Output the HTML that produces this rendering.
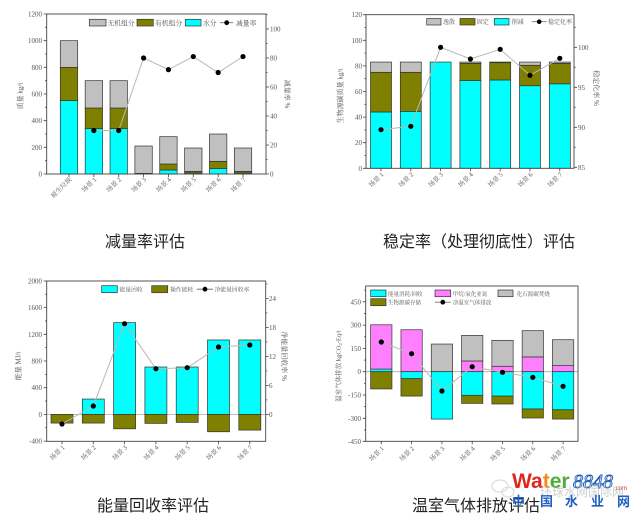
<!DOCTYPE html>
<html><head><meta charset="utf-8"><style>
html,body{margin:0;padding:0;background:#fff;width:640px;height:518px;overflow:hidden}
svg{display:block}
.t{font-family:"Liberation Serif","Noto Serif CJK SC",serif;font-size:7px;fill:#555}
.c{font-family:"Liberation Serif","Noto Serif CJK SC",serif;fill:#555}
.ttl{font-family:"Liberation Sans","Noto Sans CJK SC",sans-serif;font-size:16px;fill:#222}
.fr{fill:none;stroke:#444;stroke-width:0.9}
.tk{stroke:#444;stroke-width:0.8}
.cy{fill:#00ffff;stroke:#333;stroke-width:0.7}
.ol{fill:#808000;stroke:#333;stroke-width:0.7}
.gr{fill:#c0c0c0;stroke:#333;stroke-width:0.7}
.mg{fill:#ff80ff;stroke:#333;stroke-width:0.7}
.ln{fill:none;stroke:#b8b8b8;stroke-width:1}
</style></head><body>
<svg width="640" height="518" viewBox="0 0 640 518" xmlns="http://www.w3.org/2000/svg">
<rect width="640" height="518" fill="#fff"/>

<!-- ============ CHART 1 ============ -->
<g>
<!-- bars -->
<rect class="cy" x="60.3" y="100.67" width="17.4" height="73.33"/>
<rect class="ol" x="60.3" y="67.33" width="17.4" height="33.33"/>
<rect class="gr" x="60.3" y="40.67" width="17.4" height="26.67"/>

<rect class="cy" x="85.16" y="128.67" width="17.4" height="45.33"/>
<rect class="ol" x="85.16" y="108" width="17.4" height="20.67"/>
<rect class="gr" x="85.16" y="80.67" width="17.4" height="27.33"/>

<rect class="cy" x="110.02" y="128.67" width="17.4" height="45.33"/>
<rect class="ol" x="110.02" y="108" width="17.4" height="20.67"/>
<rect class="gr" x="110.02" y="80.67" width="17.4" height="27.33"/>

<rect class="ol" x="134.88" y="173.33" width="17.4" height="0.67"/>
<rect class="gr" x="134.88" y="146" width="17.4" height="27.33"/>

<rect class="cy" x="159.74" y="170" width="17.4" height="4"/>
<rect class="ol" x="159.74" y="164" width="17.4" height="6"/>
<rect class="gr" x="159.74" y="136.67" width="17.4" height="27.33"/>

<rect class="cy" x="184.6" y="172.93" width="17.4" height="1.07"/>
<rect class="ol" x="184.6" y="171.33" width="17.4" height="1.6"/>
<rect class="gr" x="184.6" y="148" width="17.4" height="23.33"/>

<rect class="cy" x="209.46" y="168.67" width="17.4" height="5.33"/>
<rect class="ol" x="209.46" y="161.33" width="17.4" height="7.33"/>
<rect class="gr" x="209.46" y="134" width="17.4" height="27.33"/>

<rect class="cy" x="234.32" y="172.93" width="17.4" height="1.07"/>
<rect class="ol" x="234.32" y="171.33" width="17.4" height="1.6"/>
<rect class="gr" x="234.32" y="148" width="17.4" height="23.33"/>

<!-- line -->
<polyline class="ln" points="93.86,130.5 118.72,130.5 143.58,58 168.44,69.6 193.3,56.55 218.16,72.5 243.02,56.55"/>
<g fill="#000">
<circle cx="93.86" cy="130.5" r="2.6"/><circle cx="118.72" cy="130.5" r="2.6"/><circle cx="143.58" cy="58" r="2.6"/>
<circle cx="168.44" cy="69.6" r="2.6"/><circle cx="193.3" cy="56.55" r="2.6"/><circle cx="218.16" cy="72.5" r="2.6"/><circle cx="243.02" cy="56.55" r="2.6"/>
</g>
<!-- frame -->
<rect class="fr" x="46.7" y="14" width="219.3" height="160"/>
<!-- left ticks -->
<path class="tk" d="M46.7 174h-3M46.7 147.33h-3M46.7 120.67h-3M46.7 94h-3M46.7 67.33h-3M46.7 40.67h-3M46.7 14h-3
M46.7 160.67h-1.6M46.7 134h-1.6M46.7 107.33h-1.6M46.7 80.67h-1.6M46.7 54h-1.6M46.7 27.33h-1.6"/>
<path class="tk" d="M266 174h3M266 145h3M266 116h3M266 87h3M266 58h3M266 29h3
M266 159.5h1.6M266 130.5h1.6M266 101.5h1.6M266 72.5h1.6M266 43.5h1.6M266 14.5h1.6"/>
<path class="tk" d="M69 174v3M93.86 174v3M118.72 174v3M143.58 174v3M168.44 174v3M193.3 174v3M218.16 174v3M243.02 174v3"/>
<g class="t" text-anchor="end">
<text x="42" y="176.5">0</text><text x="42" y="149.8">200</text><text x="42" y="123.2">400</text><text x="42" y="96.5">600</text>
<text x="42" y="69.8">800</text><text x="42" y="43.2">1000</text><text x="42" y="16.5">1200</text>
</g>
<g class="t">
<text x="270" y="176.5">0</text><text x="270" y="147.5">20</text><text x="270" y="118.5">40</text><text x="270" y="89.5">60</text>
<text x="270" y="60.5">80</text><text x="270" y="31.5">100</text>
</g>
<g class="c" font-size="6.5" text-anchor="end">
<text transform="translate(72,180) rotate(-45)">原生垃圾</text>
<text transform="translate(96.9,180) rotate(-45)">场景 1</text>
<text transform="translate(121.7,180) rotate(-45)">场景 2</text>
<text transform="translate(146.6,180) rotate(-45)">场景 3</text>
<text transform="translate(171.4,180) rotate(-45)">场景 4</text>
<text transform="translate(196.3,180) rotate(-45)">场景 5</text>
<text transform="translate(221.2,180) rotate(-45)">场景 6</text>
<text transform="translate(246,180) rotate(-45)">场景 7</text>
</g>
<text class="c" font-size="7" text-anchor="middle" transform="translate(22.5,96) rotate(-90)">质量 kg/t</text>
<text class="c" font-size="7" text-anchor="middle" transform="translate(285,94) rotate(90)">减量率 %</text>
<!-- legend -->
<rect class="gr" x="89.3" y="19.3" width="16.7" height="6.7"/>
<text class="c" font-size="6.8" x="107.5" y="25.3">无机组分</text>
<rect class="ol" x="137" y="19.3" width="16.3" height="6.7"/>
<text class="c" font-size="6.8" x="155" y="25.3">有机组分</text>
<rect class="cy" x="185.3" y="19.3" width="15.7" height="6.7"/>
<text class="c" font-size="6.8" x="203" y="25.3">水分</text>
<path d="M220 22.7h13.3" stroke="#666" stroke-width="0.8"/><circle cx="226.7" cy="22.7" r="2.4" fill="#000"/>
<text class="c" font-size="6.8" x="236" y="25.3">减量率</text>
</g>
<text class="ttl" x="145" y="247" text-anchor="middle">减量率评估</text>

<!-- ============ CHART 2 ============ -->
<g>
<rect class="cy" x="370.5" y="111.98" width="21" height="56.32"/>
<rect class="ol" x="370.5" y="72.3" width="21" height="39.68"/>
<rect class="gr" x="370.5" y="62.06" width="21" height="10.24"/>

<rect class="cy" x="400.3" y="111.34" width="21" height="56.96"/>
<rect class="ol" x="400.3" y="72.3" width="21" height="39.04"/>
<rect class="gr" x="400.3" y="62.06" width="21" height="10.24"/>

<rect class="cy" x="430.1" y="62.06" width="21" height="106.24"/>

<rect class="cy" x="459.9" y="80.62" width="21" height="87.68"/>
<rect class="ol" x="459.9" y="63.34" width="21" height="17.28"/>
<rect class="gr" x="459.9" y="62.06" width="21" height="1.28"/>

<rect class="cy" x="489.7" y="79.98" width="21" height="88.32"/>
<rect class="ol" x="489.7" y="62.7" width="21" height="17.28"/>
<rect class="gr" x="489.7" y="62.06" width="21" height="0.64"/>

<rect class="cy" x="519.5" y="85.74" width="21" height="82.56"/>
<rect class="ol" x="519.5" y="65.26" width="21" height="20.48"/>
<rect class="gr" x="519.5" y="62.06" width="21" height="3.2"/>

<rect class="cy" x="549.3" y="83.82" width="21" height="84.48"/>
<rect class="ol" x="549.3" y="63.34" width="21" height="20.48"/>
<rect class="gr" x="549.3" y="62.06" width="21" height="1.28"/>

<polyline class="ln" points="381,129.7 410.8,126.3 440.6,47.3 470.4,59 500.2,49.3 530,75.3 559.8,58.3"/>
<g fill="#000">
<circle cx="381" cy="129.7" r="2.6"/><circle cx="410.8" cy="126.3" r="2.6"/><circle cx="440.6" cy="47.3" r="2.6"/>
<circle cx="470.4" cy="59" r="2.6"/><circle cx="500.2" cy="49.3" r="2.6"/><circle cx="530" cy="75.3" r="2.6"/><circle cx="559.8" cy="58.3" r="2.6"/>
</g>
<rect class="fr" x="366" y="14.7" width="208" height="153.6"/>
<path class="tk" d="M366 168.3h-3M366 142.7h-3M366 117.1h-3M366 91.5h-3M366 65.9h-3M366 40.3h-3M366 14.7h-3
M366 155.5h-1.6M366 129.9h-1.6M366 104.3h-1.6M366 78.7h-1.6M366 53.1h-1.6M366 27.5h-1.6"/>
<path class="tk" d="M574 167.3h3M574 127.3h3M574 87.3h3M574 47.3h3M574 147.3h1.6M574 107.3h1.6M574 67.3h1.6M574 27.3h1.6"/>
<path class="tk" d="M381 168.3v3M410.8 168.3v3M440.6 168.3v3M470.4 168.3v3M500.2 168.3v3M530 168.3v3M559.8 168.3v3"/>
<g class="t" text-anchor="end">
<text x="362" y="170.8">0</text><text x="362" y="145.2">20</text><text x="362" y="119.6">40</text><text x="362" y="94">60</text>
<text x="362" y="68.4">80</text><text x="362" y="42.8">100</text><text x="362" y="17.2">120</text>
</g>
<g class="t">
<text x="578" y="169.8">85</text><text x="578" y="129.8">90</text><text x="578" y="89.8">95</text><text x="578" y="49.8">100</text>
</g>
<g class="c" font-size="6.5" text-anchor="end">
<text transform="translate(384,175) rotate(-45)">场景 1</text>
<text transform="translate(413.8,175) rotate(-45)">场景 2</text>
<text transform="translate(443.6,175) rotate(-45)">场景 3</text>
<text transform="translate(473.4,175) rotate(-45)">场景 4</text>
<text transform="translate(503.2,175) rotate(-45)">场景 5</text>
<text transform="translate(533,175) rotate(-45)">场景 6</text>
<text transform="translate(562.8,175) rotate(-45)">场景 7</text>
</g>
<text class="c" font-size="7" text-anchor="middle" transform="translate(342.5,96) rotate(-90)">生物源碳质量 kg/t</text>
<text class="c" font-size="7" text-anchor="middle" transform="translate(594,88) rotate(90)">稳定化率 %</text>
<rect class="gr" x="426.7" y="18.5" width="14.3" height="6.5"/>
<text class="c" font-size="6" x="443" y="24">逸散</text>
<rect class="ol" x="460" y="18.5" width="15" height="6.5"/>
<text class="c" font-size="6" x="476.7" y="24">固定</text>
<rect class="cy" x="494.3" y="18.5" width="14.7" height="6.5"/>
<text class="c" font-size="6" x="511.7" y="24">削减</text>
<path d="M531.7 21.7h15" stroke="#666" stroke-width="0.8"/><circle cx="539.2" cy="21.7" r="2.3" fill="#000"/>
<text class="c" font-size="6" x="548" y="24">稳定化率</text>
</g>
<text class="ttl" x="479" y="247" text-anchor="middle">稳定率（处理彻底性）评估</text>

<!-- ============ CHART 3 ============ -->
<g>
<line x1="46.7" y1="414.4" x2="265.7" y2="414.4" stroke="#aaa" stroke-width="0.8"/>
<rect class="ol" x="51" y="414.4" width="22" height="8.68"/>
<rect class="cy" x="82.3" y="399.05" width="22" height="15.35"/>
<rect class="ol" x="82.3" y="414.4" width="22" height="8.68"/>
<rect class="cy" x="113.6" y="322.62" width="22" height="91.78"/>
<rect class="ol" x="113.6" y="414.4" width="22" height="14.42"/>
<rect class="cy" x="144.9" y="367.01" width="22" height="47.39"/>
<rect class="ol" x="144.9" y="414.4" width="22" height="9.01"/>
<rect class="cy" x="176.2" y="367.01" width="22" height="47.39"/>
<rect class="ol" x="176.2" y="414.4" width="22" height="8.01"/>
<rect class="cy" x="207.5" y="339.97" width="22" height="74.43"/>
<rect class="ol" x="207.5" y="414.4" width="22" height="17.36"/>
<rect class="cy" x="238.8" y="339.97" width="22" height="74.43"/>
<rect class="ol" x="238.8" y="414.4" width="22" height="15.69"/>

<polyline class="ln" points="62,424 93.3,406 124.6,323.7 155.9,368.7 187.2,367.7 218.5,347 249.8,345"/>
<g fill="#000">
<circle cx="62" cy="424" r="2.6"/><circle cx="93.3" cy="406" r="2.6"/><circle cx="124.6" cy="323.7" r="2.6"/>
<circle cx="155.9" cy="368.7" r="2.6"/><circle cx="187.2" cy="367.7" r="2.6"/><circle cx="218.5" cy="347" r="2.6"/><circle cx="249.8" cy="345" r="2.6"/>
</g>
<rect class="fr" x="46.7" y="281" width="219" height="160.3"/>
<path class="tk" d="M46.7 441.1h-3M46.7 414.4h-3M46.7 387.7h-3M46.7 361h-3M46.7 334.3h-3M46.7 307.6h-3M46.7 281h-3
M46.7 427.75h-1.6M46.7 401.05h-1.6M46.7 374.35h-1.6M46.7 347.65h-1.6M46.7 320.95h-1.6M46.7 294.25h-1.6"/>
<path class="tk" d="M265.7 414.4h3M265.7 385.4h3M265.7 356.4h3M265.7 327.4h3M265.7 298.4h3
M265.7 399.9h1.6M265.7 370.9h1.6M265.7 341.9h1.6M265.7 312.9h1.6M265.7 283.9h1.6"/>
<path class="tk" d="M62 441.3v3M93.3 441.3v3M124.6 441.3v3M155.9 441.3v3M187.2 441.3v3M218.5 441.3v3M249.8 441.3v3"/>
<g class="t" text-anchor="end">
<text x="42" y="443.6">-400</text><text x="42" y="416.9">0</text><text x="42" y="390.2">400</text><text x="42" y="363.5">800</text>
<text x="42" y="336.8">1200</text><text x="42" y="310.1">1600</text><text x="42" y="283.5">2000</text>
</g>
<g class="t">
<text x="269" y="416.9">0</text><text x="269" y="387.9">6</text><text x="269" y="358.9">12</text><text x="269" y="329.9">18</text><text x="269" y="300.9">24</text>
</g>
<g class="c" font-size="6.5" text-anchor="end">
<text transform="translate(65,448) rotate(-45)">场景 1</text>
<text transform="translate(96.3,448) rotate(-45)">场景 2</text>
<text transform="translate(127.6,448) rotate(-45)">场景 3</text>
<text transform="translate(158.9,448) rotate(-45)">场景 4</text>
<text transform="translate(190.2,448) rotate(-45)">场景 5</text>
<text transform="translate(221.5,448) rotate(-45)">场景 6</text>
<text transform="translate(252.8,448) rotate(-45)">场景 7</text>
</g>
<text class="c" font-size="7" text-anchor="middle" transform="translate(20.5,366) rotate(-90)">能量 MJ/t</text>
<text class="c" font-size="7" text-anchor="middle" transform="translate(282,356) rotate(90)">净能量回收率 %</text>
<rect class="cy" x="101.7" y="285.7" width="15.6" height="7"/>
<text class="c" font-size="5.8" x="119.5" y="291.5">能量回收</text>
<rect class="ol" x="151.7" y="285.7" width="16" height="7"/>
<text class="c" font-size="5.8" x="170" y="291.5">操作能耗</text>
<path d="M196.7 289.2h16.3" stroke="#666" stroke-width="0.8"/><circle cx="205" cy="289.2" r="2.4" fill="#000"/>
<text class="c" font-size="5.8" x="214.5" y="291.5">净能量回收率</text>
</g>
<text class="ttl" x="153" y="511" text-anchor="middle">能量回收率评估</text>

<!-- ============ CHART 4 ============ -->
<g>
<line x1="365.7" y1="371.7" x2="578" y2="371.7" stroke="#aaa" stroke-width="0.8"/>
<rect class="cy" x="370.65" y="369.06" width="21.3" height="2.64"/>
<rect class="mg" x="370.65" y="324.79" width="21.3" height="44.27"/>
<rect class="ol" x="370.65" y="371.7" width="21.3" height="17.24"/>

<rect class="mg" x="400.95" y="329.76" width="21.3" height="41.94"/>
<rect class="cy" x="400.95" y="371.7" width="21.3" height="6.99"/>
<rect class="ol" x="400.95" y="378.69" width="21.3" height="17.4"/>

<rect class="gr" x="431.25" y="344.05" width="21.3" height="27.65"/>
<rect class="cy" x="431.25" y="371.7" width="21.3" height="47.38"/>

<rect class="mg" x="461.55" y="360.98" width="21.3" height="10.72"/>
<rect class="gr" x="461.55" y="335.35" width="21.3" height="25.63"/>
<rect class="cy" x="461.55" y="371.7" width="21.3" height="23.61"/>
<rect class="ol" x="461.55" y="395.31" width="21.3" height="8.08"/>

<rect class="mg" x="491.85" y="366.26" width="21.3" height="5.44"/>
<rect class="gr" x="491.85" y="340.32" width="21.3" height="25.94"/>
<rect class="cy" x="491.85" y="371.7" width="21.3" height="24.39"/>
<rect class="ol" x="491.85" y="396.09" width="21.3" height="7.92"/>

<rect class="mg" x="522.15" y="356.94" width="21.3" height="14.76"/>
<rect class="gr" x="522.15" y="330.69" width="21.3" height="26.25"/>
<rect class="cy" x="522.15" y="371.7" width="21.3" height="37.28"/>
<rect class="ol" x="522.15" y="408.98" width="21.3" height="9.01"/>

<rect class="mg" x="552.45" y="365.64" width="21.3" height="6.06"/>
<rect class="gr" x="552.45" y="339.7" width="21.3" height="25.94"/>
<rect class="cy" x="552.45" y="371.7" width="21.3" height="38.06"/>
<rect class="ol" x="552.45" y="409.76" width="21.3" height="9.32"/>

<polyline class="ln" points="381.3,342 411.6,353.7 441.9,391 472.2,366.7 502.5,372.3 532.8,377.3 563.1,386.3"/>
<g fill="#000">
<circle cx="381.3" cy="342" r="2.6"/><circle cx="411.6" cy="353.7" r="2.6"/><circle cx="441.9" cy="391" r="2.6"/>
<circle cx="472.2" cy="366.7" r="2.6"/><circle cx="502.5" cy="372.3" r="2.6"/><circle cx="532.8" cy="377.3" r="2.6"/><circle cx="563.1" cy="386.3" r="2.6"/>
</g>
<rect class="fr" x="365.7" y="286" width="212.3" height="155.3"/>
<path class="tk" d="M365.7 301.8h-3M365.7 325.1h-3M365.7 348.4h-3M365.7 371.7h-3M365.7 395h-3M365.7 418.3h-3M365.7 441.3h-3
M365.7 290.15h-1.6M365.7 313.45h-1.6M365.7 336.75h-1.6M365.7 360.05h-1.6M365.7 383.35h-1.6M365.7 406.65h-1.6M365.7 429.95h-1.6"/>
<path class="tk" d="M381.3 441.3v3M411.6 441.3v3M441.9 441.3v3M472.2 441.3v3M502.5 441.3v3M532.8 441.3v3M563.1 441.3v3"/>
<g class="t" text-anchor="end">
<text x="361" y="304.3">450</text><text x="361" y="327.6">300</text><text x="361" y="350.9">150</text><text x="361" y="374.2">0</text>
<text x="361" y="397.5">-150</text><text x="361" y="420.8">-300</text><text x="361" y="443.8">-450</text>
</g>
<g class="c" font-size="6.5" text-anchor="end">
<text transform="translate(384.3,449) rotate(-45)">场景 1</text>
<text transform="translate(414.6,449) rotate(-45)">场景 2</text>
<text transform="translate(444.9,449) rotate(-45)">场景 3</text>
<text transform="translate(475.2,449) rotate(-45)">场景 4</text>
<text transform="translate(505.5,449) rotate(-45)">场景 5</text>
<text transform="translate(535.8,449) rotate(-45)">场景 6</text>
<text transform="translate(566.1,449) rotate(-45)">场景 7</text>
</g>
<text class="c" font-size="6.5" text-anchor="middle" transform="translate(340.5,366) rotate(-90)">温室气体排放 kgCO<tspan font-size="4.5" dy="1.5">2</tspan><tspan dy="-1.5">-Eq/t</tspan></text>
<!-- legend -->
<rect class="cy" x="370.7" y="290" width="15.3" height="6.7"/>
<text class="c" font-size="5.5" x="388" y="295.8">能量消耗/回收</text>
<rect class="mg" x="435" y="290" width="15.7" height="6.7"/>
<text class="c" font-size="5.5" x="452.7" y="295.8">甲烷/氧化亚氮</text>
<rect class="gr" x="498" y="290" width="15" height="6.7"/>
<text class="c" font-size="5.5" x="516.7" y="295.8">化石源碳焚烧</text>
<rect class="ol" x="370.7" y="298.7" width="15.3" height="7"/>
<text class="c" font-size="5.5" x="388" y="304.5">生物源碳存储</text>
<path d="M435 302.2h15.7" stroke="#666" stroke-width="0.8"/><circle cx="442.8" cy="302.2" r="2.4" fill="#000"/>
<text class="c" font-size="5.5" x="452.7" y="304.5">净温室气体排放</text>
</g>
<text class="ttl" x="476" y="511" text-anchor="middle">温室气体排放评估</text>

<!-- ============ WATERMARK ============ -->
<g>
<ellipse cx="500" cy="486" rx="8" ry="6" fill="none" stroke="#ddd" stroke-width="1.2"/>
<ellipse cx="508" cy="492" rx="6" ry="5" fill="none" stroke="#ddd" stroke-width="1.2"/>
<text x="512" y="488" font-family="Liberation Sans, sans-serif" font-weight="bold" font-size="21"><tspan fill="#e0261c">Wa</tspan><tspan fill="#f08a1c">t</tspan><tspan fill="#4fae3a">er</tspan></text>
<text x="573" y="488" font-family="Liberation Serif, serif" font-style="italic" font-size="20" fill="#fff" stroke="#1e5fb8" stroke-width="0.9">8848</text>
<text x="614" y="490" font-family="Liberation Sans, sans-serif" font-size="6" fill="#e0261c">.com</text>
<text x="540" y="496" font-family="Liberation Sans, 'Noto Sans CJK SC', sans-serif" font-size="12" fill="#bbb" opacity="0.7">环球水网国际网</text>
<g font-family="'Liberation Sans','Noto Sans CJK SC',sans-serif" font-weight="bold" font-size="13" fill="#1f5fc0">
<text x="512" y="506">中</text><text x="540" y="506">国</text><text x="565" y="506">水</text><text x="591" y="506">业</text><text x="617" y="506">网</text>
</g>
</g>
</svg>
</body></html>
